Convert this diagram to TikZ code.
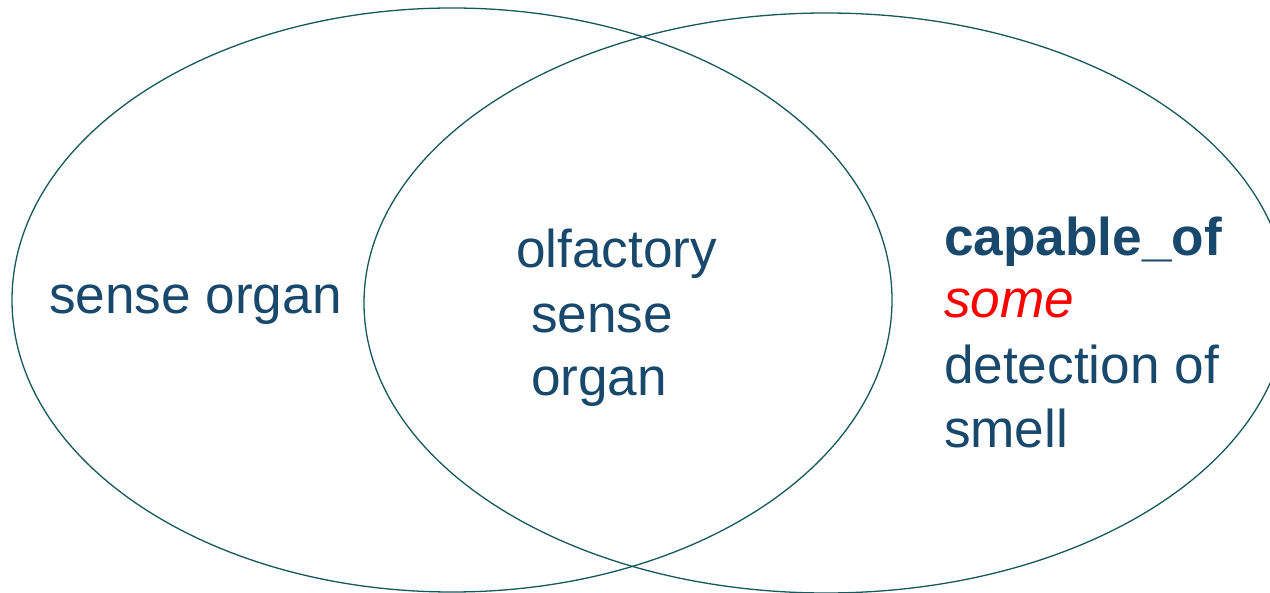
\documentclass[tikz,border=0pt]{standalone}
\usepackage{fontspec}
\setmainfont{Liberation Sans}
\definecolor{txtblue}{RGB}{24,72,108}
\definecolor{ringcol}{RGB}{22,88,92}
\definecolor{somered}{RGB}{255,0,0}
\begin{document}
\begin{tikzpicture}[x=1pt,y=-1pt,
  ring/.style={draw=ringcol,line width=1.3pt},
  lbl/.style={anchor=base west,inner sep=0pt,outer sep=0pt,text=txtblue,font=\fontsize{53.2}{63}\selectfont}]
\useasboundingbox (0,0) rectangle (1270,593);
\begin{scope}
\clip (0,0) rectangle (1270,593);
\draw[ring] (452,300) ellipse [x radius=440pt, y radius=292pt];
\draw[ring] (826,303) ellipse [x radius=462pt, y radius=290pt];
\end{scope}
\node[lbl] (so) at (49,314) {sense organ};
\node[lbl] (c1) at (516,268) {olfactory};
\node[lbl] (c2) at (531,333) {sense};
\node[lbl] (c3) at (531,396) {organ};
\node[lbl,font=\fontsize{53.2}{63}\selectfont\bfseries] (r1) at (944,256) {capable\_of};
\node[lbl,text=somered,font=\fontsize{53.2}{63}\selectfont\itshape] (r2) at (944,318) {some};
\node[lbl] (r3) at (944,384) {detection of};
\node[lbl] (r4) at (944,448) {smell};
\end{tikzpicture}
\end{document}
